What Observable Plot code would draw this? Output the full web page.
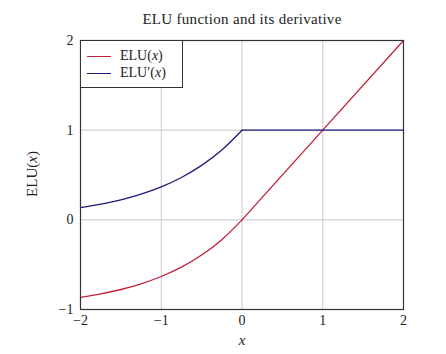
<!DOCTYPE html>
<html>
<head>
<meta charset="utf-8">
<script src="https://cdn.jsdelivr.net/npm/d3@7"></script>
<script src="https://cdn.jsdelivr.net/npm/@observablehq/plot@0.6"></script>
<style>
  html, body { margin: 0; padding: 0; background: #fff; }
  #wrap { position: relative; width: 446px; height: 354px; font-family: 'Liberation Serif', 'DejaVu Serif', serif; color: #222; }
  #title { height: 30px; box-sizing: border-box; padding-top: 10px; text-align: center; font-size: 15px; line-height: 18px; letter-spacing: 0.3px; padding-left: 38px; }
  #legend { position: absolute; left: 80px; top: 40px; width: 103px; height: 48px; box-sizing: border-box; border: 1px solid #333; background: #fff; font-size: 14px; }
  .entry { position: absolute; left: 0; height: 16px; line-height: 16px; }
  .swatch { position: absolute; left: 6px; width: 24px; height: 0; border-top: 1.3px solid; top: 8px; }
  .lab { position: absolute; left: 39px; top: 0; white-space: nowrap; }
  #chart svg text { font-family: 'Liberation Serif', 'DejaVu Serif', serif; }
</style>
</head>
<body>
<div id="wrap">
  <div id="title">ELU function and its derivative</div>
  <div id="chart"></div>
  <div id="legend"></div>
</div>
<script>
// values
const xs      = [-2, -1.75, -1.5, -1.25, -1, -0.75, -0.5, -0.25, 0, 1, 2];
const elu     = [-0.865, -0.826, -0.777, -0.713, -0.632, -0.528, -0.393, -0.221, 0, 1, 2];
const eluDer  = [0.135, 0.174, 0.223, 0.287, 0.368, 0.472, 0.607, 0.779, 1, 1, 1];
const seriesNames = ["ELU(x)", "ELU′(x)"];
const seriesColors = ["#c0203a", "#1c1c78"];
const xTicks = [-2, -1, 0, 1, 2];
const yTicks = [-1, 0, 1, 2];
const gridX = [-1, 0, 1];
const gridY = [0, 1];

const rows = [];
xs.forEach((x, i) => {
  rows.push({x, y: elu[i], s: seriesNames[0]});
  rows.push({x, y: eluDer[i], s: seriesNames[1]});
});
const neg = rows.filter(d => d.x <= 0);
const pos = rows.filter(d => d.x >= 0);
const fmt = d3.format("d");

const chart = Plot.plot({
  width: 446,
  height: 324,
  marginTop: 10,
  marginBottom: 45,
  marginLeft: 80,
  marginRight: 43,
  style: { fontFamily: "'Liberation Serif', 'DejaVu Serif', serif", fontSize: "14px", color: "#222", background: "#fff" },
  x: { domain: [-2, 2], label: null },
  y: { domain: [-1, 2], label: null },
  color: { domain: seriesNames, range: seriesColors },
  marks: [
    Plot.gridX(gridX, { stroke: "#c8c8c8", strokeOpacity: 1, strokeWidth: 1 }),
    Plot.gridY(gridY, { stroke: "#c8c8c8", strokeOpacity: 1, strokeWidth: 1 }),
    Plot.axisX(xTicks, { tickSize: 0, tickPadding: 6, tickFormat: fmt, fontSize: 14, label: null }),
    Plot.axisY(yTicks, { tickSize: 0, tickPadding: 7, tickFormat: fmt, fontSize: 14, label: null }),
    Plot.line(neg, { x: "x", y: "y", z: "s", stroke: "s", curve: "monotone-x", strokeWidth: 1.3 }),
    Plot.line(pos, { x: "x", y: "y", z: "s", stroke: "s", strokeWidth: 1.3 }),
    Plot.frame({ stroke: "#333", strokeWidth: 1.2 })
  ]
});
document.getElementById("chart").appendChild(chart);

const svg = d3.select(chart);
// y-axis label
const yl = svg.append("text")
  .attr("transform", "translate(37,144) rotate(-90)")
  .attr("text-anchor", "middle")
  .attr("font-size", 15)
  .attr("fill", "#222");
yl.append("tspan").text("ELU(");
yl.append("tspan").attr("font-style", "italic").text("x");
yl.append("tspan").text(")");
// x-axis label
svg.append("text")
  .attr("x", 242).attr("y", 315)
  .attr("text-anchor", "middle")
  .attr("font-size", 15)
  .attr("font-style", "italic")
  .attr("fill", "#222")
  .text("x");

// legend
const legend = d3.select("#legend");
seriesNames.forEach((name, i) => {
  const e = legend.append("div").attr("class", "entry").style("top", (7 + i * 17) + "px").style("width", "100px");
  e.append("div").attr("class", "swatch").style("border-color", seriesColors[i]);
  const lab = e.append("div").attr("class", "lab");
  const m = name.match(/^(.*)\((x)\)$/);
  lab.append("span").text(m[1] + "(");
  lab.append("i").text("x");
  lab.append("span").text(")");
});
</script>
</body>
</html>
